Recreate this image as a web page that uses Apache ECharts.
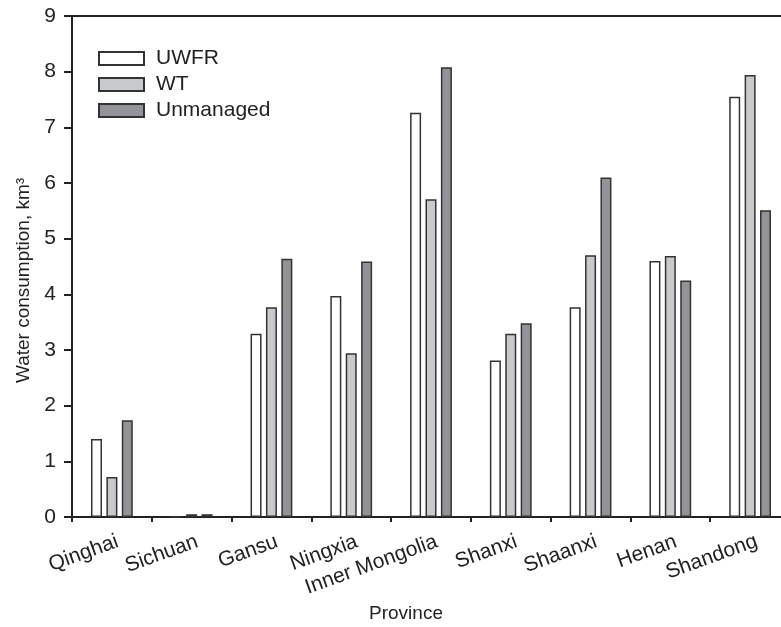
<!DOCTYPE html>
<html><head><meta charset="utf-8">
<script src="https://cdn.jsdelivr.net/npm/echarts@6/dist/echarts.min.js"></script>
<style>html,body{margin:0;padding:0;background:#fff}#c{width:781px;height:627px}</style>
</head><body><div id="c"></div>
<script>
const provinces = ['Qinghai','Sichuan','Gansu','Ningxia','Inner Mongolia','Shanxi','Shaanxi','Henan','Shandong'];
const uwfr = [1.40, 0, 3.29, 3.97, 7.26, 2.81, 3.77, 4.60, 7.55];
const wt = [0.72, 0.05, 3.77, 2.94, 5.71, 3.29, 4.70, 4.69, 7.94];
const unmanaged = [1.74, 0.05, 4.64, 4.59, 8.08, 3.48, 6.10, 4.25, 5.51];
const yTicks = [0,1,2,3,4,5,6,7,8,9];

const font = 'Liberation Sans, Arial, sans-serif';
const ink = '#222';
const chart = echarts.init(document.getElementById('c'));
function bar(name, data, color){
  return {name, type:'bar', data, barWidth:11, barGap:'40%',
    itemStyle:{color, borderColor:'#333', borderWidth:1.5}};
}
chart.setOption({
  animation:false,
  grid:{left:72, top:16, right:-9, bottom:110, containLabel:false, outerBoundsMode:'none',
    show:true, borderColor:ink, borderWidth:2, backgroundColor:'transparent'},
  legend:{orient:'vertical', left:98, top:48, padding:0, itemWidth:45, itemHeight:13, itemGap:5, icon:'rect',
    textStyle:{fontFamily:font, fontSize:21, color:ink, padding:[0,0,0,7]},
    data:['UWFR','WT','Unmanaged']},
  xAxis:{type:'category', data:provinces,
    name:'Province', nameLocation:'middle', nameGap:80,
    nameTextStyle:{fontFamily:font, fontSize:19, color:ink, padding:[0,50,0,0]},
    axisLine:{lineStyle:{color:ink, width:2}},
    axisTick:{show:true, length:5, lineStyle:{color:ink, width:2}},
    axisLabel:{interval:0, rotate:20, margin:26, fontFamily:font, fontSize:21, color:ink,
      formatter:v => v === 'Shandong' ? '{s|'+v+'}' : '{n|'+v+'}',
      rich:{n:{fontFamily:font, fontSize:21, color:ink, padding:[0,-6,0,0]},
            s:{fontFamily:font, fontSize:21, color:ink, padding:[0,-7,0,0]}}}
  },
  yAxis:{type:'value', min:0, max:9, interval:1,
    name:'Water consumption, km³', nameLocation:'middle', nameGap:38,
    nameTextStyle:{fontFamily:font, fontSize:19, color:ink, padding:[0,28,0,0]},
    axisLine:{show:true, lineStyle:{color:ink, width:2}},
    axisTick:{show:true, length:8, lineStyle:{color:ink, width:2}},
    axisLabel:{margin:16, fontFamily:font, fontSize:21, color:ink, formatter:v=>yTicks.includes(v)?String(v):''},
    splitLine:{show:false}
  },
  series:[bar('UWFR', uwfr, '#ffffff'), bar('WT', wt, '#c8c9cb'), bar('Unmanaged', unmanaged, '#929397')]
});
</script></body></html>
